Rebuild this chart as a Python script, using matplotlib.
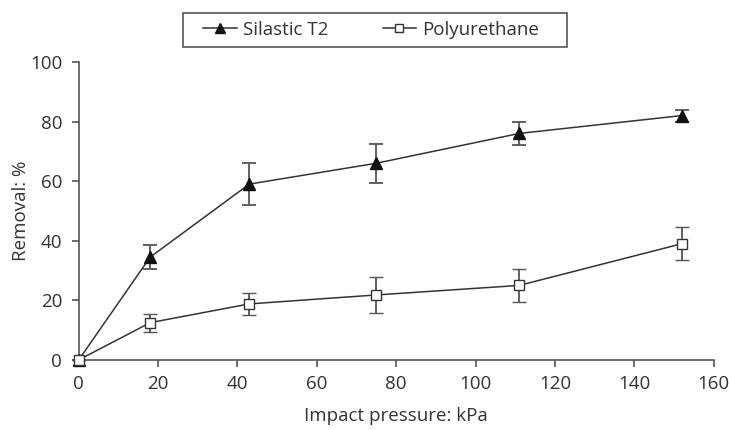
import matplotlib.pyplot as plt
from matplotlib.lines import Line2D
from matplotlib.patches import Rectangle

pressure = [0, 18, 43, 75, 111, 152]

silastic = [0, 34.5, 59, 66, 76, 82]
silastic_err = [0, 4, 7, 6.5, 4, 2]

polyurethane = [0, 12.5, 18.8, 21.8, 25, 39]
polyurethane_err = [0, 3, 3.8, 6, 5.5, 5.5]

x_ticks = [0, 20, 40, 60, 80, 100, 120, 140, 160]
y_ticks = [0, 20, 40, 60, 80, 100]

plt.rcParams["font.family"] = ["Open Sans", "DejaVu Sans"]
text_color = "#333333"
axis_color = "#555555"
fs = 13.5

fig = plt.figure(figsize=(7.29, 4.30), dpi=100)
ax = fig.add_axes([0.108, 0.163, 0.871, 0.693])

tri_style = dict(color="#333333", lw=1.1, marker="^", ms=8,
                 mfc="#111111", mec="#111111")
sq_style = dict(color="#333333", lw=1.1, marker="s", ms=7,
                mfc="white", mec="#333333", mew=1.0)

ax.errorbar(pressure, silastic, yerr=silastic_err, **tri_style,
            ecolor="#555555", elinewidth=1.3, capsize=5, capthick=1.3,
            clip_on=False, zorder=3)
ax.errorbar(pressure, polyurethane, yerr=polyurethane_err, **sq_style,
            ecolor="#555555", elinewidth=1.3, capsize=5, capthick=1.3,
            clip_on=False, zorder=3)

ax.set_xlim(0, 160)
ax.set_ylim(0, 100)
ax.set_xticks(x_ticks)
ax.set_yticks(y_ticks)

for side in ["top", "right"]:
    ax.spines[side].set_visible(False)
for side in ["left", "bottom"]:
    ax.spines[side].set_color(axis_color)
    ax.spines[side].set_linewidth(1.2)

ax.tick_params(colors=axis_color, labelcolor=text_color, labelsize=fs,
               length=5, width=1.2)
ax.tick_params(axis="x", pad=6)
ax.tick_params(axis="y", pad=7)
ax.set_xlabel("Impact pressure: kPa", fontsize=fs, color=text_color, labelpad=10)
ax.set_ylabel("Removal: %", fontsize=fs, color=text_color, labelpad=0)

handles = [
    Line2D([], [], **{**tri_style, "ms": 7}),
    Line2D([], [], **{**sq_style, "ms": 6}),
]
leg = ax.legend(handles, ["Silastic T2", "Polyurethane"],
                loc="center", bbox_to_anchor=(0.4605, 1.108), ncol=2,
                frameon=False, fontsize=fs,
                handlelength=1.8, handletextpad=0.3, columnspacing=2.9,
                borderpad=0.45, borderaxespad=0)
for t in leg.get_texts():
    t.set_color(text_color)

# legend box is wider than the entries, as in the original
fig.patches.append(Rectangle((0.251, 0.891), 0.527, 0.079,
                             transform=fig.transFigure, fill=False,
                             edgecolor="#555555", linewidth=1.2))

fig.savefig("out.png", dpi=100)
